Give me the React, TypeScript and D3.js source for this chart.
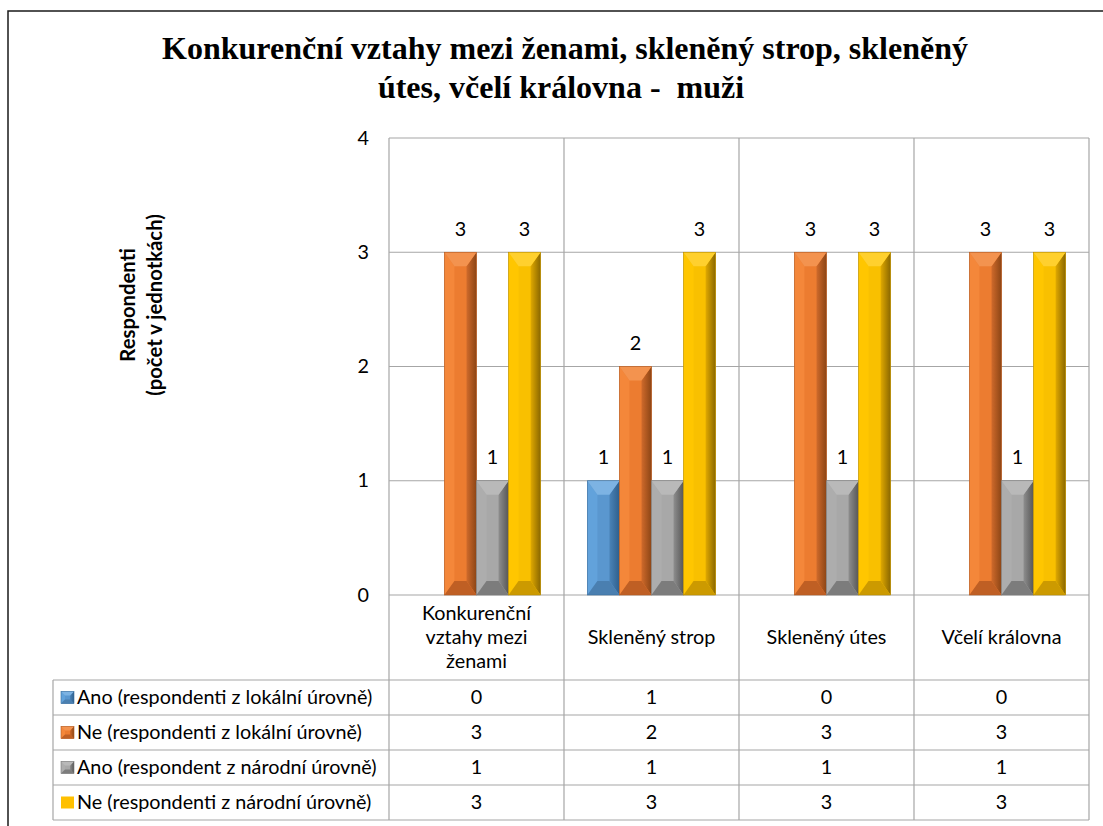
import React from "react";
import * as d3 from "d3";

const titleLines = ["Konkurenční vztahy mezi ženami, skleněný strop, skleněný", "útes, včelí královna -  muži"];
const categories = ["Konkurenční\nvztahy mezi\nženami", "Skleněný strop", "Skleněný útes", "Včelí královna"];
const seriesNames = [
  "Ano (respondenti z lokální úrovně)",
  "Ne (respondenti z lokální úrovně)",
  "Ano (respondent z národní úrovně)",
  "Ne (respondenti z národní úrovně)",
];
const anoLokal = [0, 1, 0, 0];
const neLokal = [3, 2, 3, 3];
const anoNarod = [1, 1, 1, 1];
const neNarod = [3, 3, 3, 3];
const seriesValues = [anoLokal, neLokal, anoNarod, neNarod];
const yTicks = [0, 1, 2, 3, 4];
const axisTitle = ["Respondenti", "(počet v jednotkách)"];

type Shade = { top: string; left: string; mid: string; r1: string; r2: string; bottom: string; edge: string; flat: string };
const shades: Shade[] = [
  { top: "#7DB3E3", left: "#62A2DB", mid: "#5A97CF", r1: "#4A83B8", r2: "#2F5F8C", bottom: "#4A7FB0", edge: "#3A6E9E", flat: "#5B9BD5" },
  { top: "#F3934F", left: "#F4873A", mid: "#EC7C30", r1: "#CF6A2B", r2: "#8C4515", bottom: "#BF5F24", edge: "#B25A22", flat: "#ED7D31" },
  { top: "#B9B9B9", left: "#ADADAD", mid: "#A8A8A8", r1: "#8E8E8E", r2: "#575757", bottom: "#7C7C7C", edge: "#7A7A7A", flat: "#A5A5A5" },
  { top: "#FFD02E", left: "#FFC600", mid: "#F9C000", r1: "#E0A900", r2: "#8A6700", bottom: "#CC9A00", edge: "#B88C00", flat: "#FFC000" },
];

const W = 1103;
const H = 826;
const plotL = 389;
const plotR = 1089;
const plotT = 138;
const plotB = 595;
const tableL = 53;
const headerB = 680;
const rowH = 35;
const font = "Lato, 'Open Sans', sans-serif";
const fs = 19.8;

function Bar({ x, y, w, h, s, id, bxMax = 10, byMax = 14 }: { x: number; y: number; w: number; h: number; s: Shade; id: number; bxMax?: number; byMax?: number }) {
  if (h <= 0) return null;
  const bx = Math.min(bxMax, w / 3);
  const by = Math.min(byMax, h / 2);
  const x0 = x, x1 = x + w, y0 = y, y1 = y + h;
  const p = (pts: number[][]) => pts.map((q) => q.join(",")).join(" ");
  return (
    <g>
      <rect x={x0} y={y0} width={w} height={h} fill={s.mid} />
      <polygon points={p([[x0, y0], [x0 + bx, y0 + by], [x0 + bx, y1 - by], [x0, y1]])} fill={s.left} />
      <polygon points={p([[x1, y0], [x1 - bx, y0 + by], [x1 - bx, y1 - by], [x1, y1]])} fill={`url(#rg${id})`} />
      <polygon points={p([[x0, y0], [x1, y0], [x1 - bx, y0 + by], [x0 + bx, y0 + by]])} fill={s.top} />
      <polygon points={p([[x0, y1], [x1, y1], [x1 - bx, y1 - by], [x0 + bx, y1 - by]])} fill={s.bottom} />
      <rect x={x0} y={y0} width={w} height={h} fill="none" stroke={s.edge} strokeWidth={0.6} />
    </g>
  );
}

export default function App() {
  const x = d3.scaleBand<number>().domain(d3.range(categories.length)).range([plotL, plotR]);
  const xs = d3.scaleBand<number>().domain(d3.range(seriesNames.length)).range([0, x.bandwidth()]).paddingOuter(0.73);
  const y = d3.scaleLinear().domain([0, 4]).range([plotB, plotT]);
  const grid = "#A6A6A6";
  const colEdges = d3.range(categories.length + 1).map((i) => (i < categories.length ? (x(i) as number) : plotR));

  return (
    <svg width={W} height={H} style={{ position: "absolute", left: 0, top: 0, background: "#fff" }}>
      <defs>
        {shades.map((s, i) => (
          <linearGradient key={i} id={`rg${i}`} x1="0" y1="0" x2="1" y2="0">
            <stop offset="0" stopColor={s.r1} />
            <stop offset="1" stopColor={s.r2} />
          </linearGradient>
        ))}
      </defs>
      <rect x={0} y={0} width={W} height={H} fill="#fff" />
      <rect x={8} y={11} width={1300} height={1000} fill="none" stroke="#1a1a1a" strokeWidth={1.5} />
      {titleLines.map((t, i) => (
        <text key={i} x={i === 0 ? 565 : 561} y={59 + i * 39} textAnchor="middle" fontFamily="'Liberation Serif', 'Times New Roman', serif" fontWeight="bold" fontSize={32} style={{ whiteSpace: "pre" }}>
          {t}
        </text>
      ))}
      <text transform={`translate(141,305) rotate(-90)`} textAnchor="middle" fontFamily={font} fontWeight="bold" fontSize={20.3}>
        {axisTitle.map((t, i) => (
          <tspan key={i} x={0} y={i * 27 - 6}>
            {t}
          </tspan>
        ))}
      </text>
      {yTicks.map((t) => (
        <line key={t} x1={plotL} x2={plotR} y1={y(t)} y2={y(t)} stroke={grid} strokeWidth={1.2} />
      ))}
      {yTicks.map((t) => (
        <text key={"l" + t} x={369} y={y(t) + 6.5} textAnchor="end" fontFamily={font} fontSize={fs}>
          {t}
        </text>
      ))}
      {colEdges.map((cx, i) => (
        <line key={"v" + i} x1={cx} x2={cx} y1={plotT} y2={headerB + rowH * seriesNames.length} stroke={grid} strokeWidth={1.2} />
      ))}
      {d3.range(seriesNames.length + 1).map((r) => (
        <line key={"h" + r} x1={tableL} x2={plotR} y1={headerB + r * rowH} y2={headerB + r * rowH} stroke={grid} strokeWidth={1.2} />
      ))}
      <line x1={tableL} x2={tableL} y1={headerB} y2={headerB + rowH * seriesNames.length} stroke={grid} strokeWidth={1.2} />
      {categories.map((_, ci) =>
        seriesValues.map((vals, si) => {
          const v = vals[ci];
          const bx = (x(ci) as number) + (xs(si) as number);
          const w = xs.bandwidth();
          return (
            <g key={ci + "-" + si}>
              <Bar x={bx} y={y(v)} w={w} h={y(0) - y(v)} s={shades[si]} id={si} />
              {v > 0 && (
                <text x={bx + w / 2} y={y(v) - 16.5} textAnchor="middle" fontFamily={font} fontSize={fs}>
                  {v}
                </text>
              )}
            </g>
          );
        })
      )}
      {categories.map((c, ci) => {
        const lines = c.split("\n");
        const cx = (x(ci) as number) + x.bandwidth() / 2;
        const mid = (plotB + headerB) / 2;
        return (
          <text key={"c" + ci} textAnchor="middle" fontFamily={font} fontSize={fs}>
            {lines.map((l, li) => (
              <tspan key={li} x={cx} y={mid + 6.5 + (li - (lines.length - 1) / 2) * 24}>
                {l}
              </tspan>
            ))}
          </text>
        );
      })}
      {seriesNames.map((n, si) => {
        const ry = headerB + si * rowH;
        const s = shades[si];
        return (
          <g key={"r" + si}>
            {si < 3 ? (
              <Bar x={61} y={ry + 11.5} w={13} h={12} s={s} id={si} bxMax={4} byMax={4} />
            ) : (
              <rect x={61} y={ry + 11.5} width={13} height={12} fill={s.flat} />
            )}
            <text x={77} y={ry + 24} fontFamily={font} fontSize={fs}>
              {n}
            </text>
            {seriesValues[si].map((v, ci) => (
              <text key={ci} x={(x(ci) as number) + x.bandwidth() / 2} y={ry + 24} textAnchor="middle" fontFamily={font} fontSize={fs}>
                {v}
              </text>
            ))}
          </g>
        );
      })}
    </svg>
  );
}
